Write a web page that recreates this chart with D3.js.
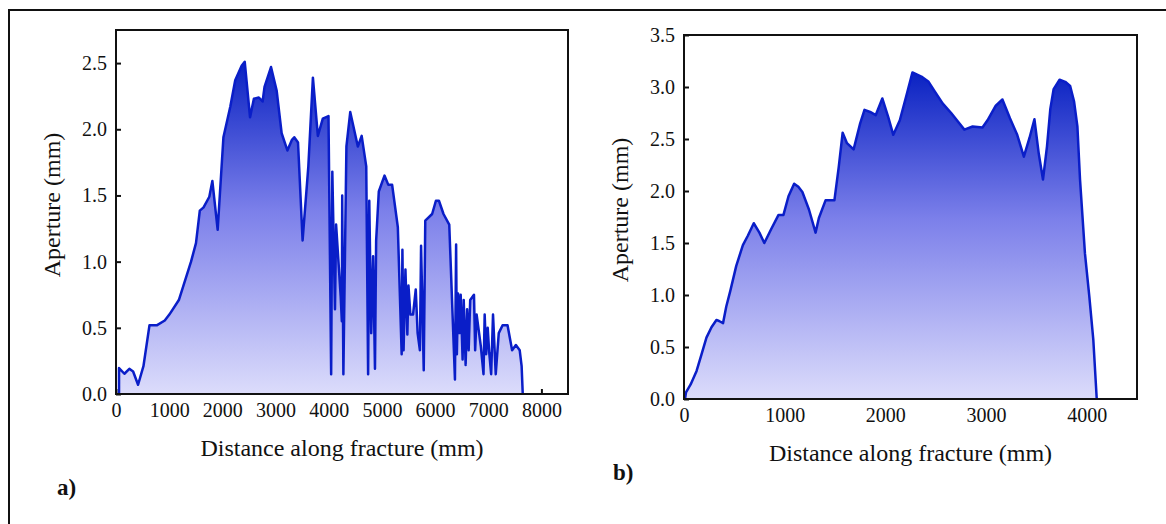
<!DOCTYPE html>
<html>
<head>
<meta charset="utf-8">
<script src="https://cdn.jsdelivr.net/npm/d3@7"></script>
<style>
  body { margin: 0; background: #fff; }
  svg text { font-family: "Liberation Serif", "Times New Roman", serif; fill: #111; }
</style>
</head>
<body>
<div id="zone_graphique"></div>
<script>
var largeur = 1166;
var hauteur = 524;

// donnees panneau a)
var distA = [57, 57, 158, 251, 322, 415, 516, 630, 773, 917, 1003, 1182, 1411, 1504, 1576, 1647, 1755, 1812, 1912, 2020,
  2149, 2242, 2363, 2421, 2521, 2593, 2686, 2757, 2793, 2915, 3022, 3115, 3223, 3309, 3352, 3423, 3509, 3617, 3703, 3796,
  3889, 3996, 4046, 4068, 4118, 4139, 4225, 4247, 4254, 4276, 4333, 4405, 4548, 4620, 4706, 4741, 4763, 4799, 4835, 4870,
  4892, 4942, 5049, 5121, 5193, 5300, 5372, 5386, 5408, 5443, 5479, 5500, 5536, 5586, 5637, 5672, 5715, 5737, 5787, 5816,
  5945, 6016, 6073, 6159, 6267, 6374, 6396, 6410, 6432, 6460, 6482, 6518, 6539, 6575, 6603, 6632, 6661, 6732, 6754, 6782,
  6861, 6911, 6933, 6961, 6990, 7019, 7055, 7090, 7141, 7198, 7270, 7363, 7449, 7520, 7592, 7628, 7649];
var apertureA = [0, 0.196, 0.153, 0.19, 0.17, 0.07, 0.21, 0.52, 0.52, 0.555, 0.6, 0.71, 1.0, 1.14, 1.385, 1.41, 1.49, 1.61, 1.24, 1.94,
  2.17, 2.37, 2.48, 2.51, 2.09, 2.23, 2.24, 2.21, 2.32, 2.47, 2.29, 1.97, 1.84, 1.92, 1.94, 1.90, 1.16, 1.72, 2.39, 1.95,
  2.08, 2.10, 0.15, 1.68, 0.64, 1.28, 0.74, 0.55, 1.5, 0.15, 1.87, 2.13, 1.87, 1.95, 1.72, 0.15, 1.46, 0.46, 1.04, 0.19,
  1.16, 1.53, 1.65, 1.58, 1.58, 1.26, 0.30, 1.09, 0.33, 0.94, 0.45, 0.82, 0.6, 0.6, 0.79, 0.46, 0.33, 1.12, 0.18, 1.31,
  1.36, 1.46, 1.46, 1.36, 1.28, 0.11, 1.13, 0.30, 0.76, 0.46, 0.75, 0.26, 0.71, 0.22, 0.64, 0.33, 0.71, 0.75, 0.33, 0.6,
  0.36, 0.15, 0.6, 0.30, 0.5, 0.31, 0.15, 0.6, 0.15, 0.46, 0.52, 0.52, 0.33, 0.37, 0.33, 0.21, 0];

// donnees panneau b)
var distB = [10, 20, 66, 125, 174, 223, 273, 322, 348, 388, 420, 460, 519, 585, 634, 693, 749, 798, 864, 939,
  988, 1038, 1094, 1136, 1176, 1242, 1307, 1340, 1406, 1494, 1537, 1576, 1619, 1685, 1750, 1793, 1849, 1905, 1970, 2029,
  2079, 2144, 2210, 2269, 2358, 2430, 2489, 2571, 2654, 2719, 2785, 2867, 2965, 3015, 3097, 3163, 3238, 3310, 3376, 3432,
  3481, 3524, 3566, 3606, 3639, 3672, 3731, 3787, 3836, 3875, 3908, 3934, 3983, 4026, 4066, 4100];
var apertureB = [0, 0.064, 0.14, 0.27, 0.43, 0.59, 0.69, 0.76, 0.75, 0.73, 0.89, 1.04, 1.28, 1.48, 1.57, 1.69, 1.60, 1.50, 1.63, 1.77,
  1.77, 1.95, 2.07, 2.04, 1.99, 1.82, 1.60, 1.74, 1.91, 1.91, 2.23, 2.56, 2.46, 2.40, 2.65, 2.78, 2.76, 2.73, 2.89, 2.71,
  2.54, 2.68, 2.92, 3.14, 3.10, 3.05, 2.96, 2.84, 2.75, 2.67, 2.59, 2.62, 2.61, 2.68, 2.82, 2.88, 2.70, 2.54, 2.33, 2.51,
  2.69, 2.36, 2.11, 2.43, 2.79, 2.98, 3.07, 3.05, 3.01, 2.86, 2.62, 2.11, 1.40, 0.99, 0.57, 0];

var ticksXA = [0, 1000, 2000, 3000, 4000, 5000, 6000, 7000, 8000];
var ticksYA = [0, 0.5, 1.0, 1.5, 2.0, 2.5];
var ticksXB = [0, 1000, 2000, 3000, 4000];
var ticksYB = [0, 0.5, 1.0, 1.5, 2.0, 2.5, 3.0, 3.5];

var svg = d3.select("#zone_graphique")
    .append("svg")
        .attr("width", largeur)
        .attr("height", hauteur);

// cadre exterieur (seuls haut et gauche visibles)
svg.append("path")
    .attr("d", "M9,524 V10 H1166")
    .attr("fill", "none")
    .attr("stroke", "#111")
    .attr("stroke-width", 2);

var defs = svg.append("defs");
var grad = defs.append("linearGradient")
    .attr("id", "degrade")
    .attr("x1", 0).attr("y1", 0)
    .attr("x2", 0).attr("y2", 1);
grad.append("stop").attr("offset", "0%").attr("stop-color", "#0a22c2");
grad.append("stop").attr("offset", "45%").attr("stop-color", "#7c80ea");
grad.append("stop").attr("offset", "100%").attr("stop-color", "#dcdcfb");

function panneau(p) {
    var g = svg.append("g").attr("transform", "translate(" + p.gauche + "," + p.haut + ")");
    var w = p.droite - p.gauche, h = p.bas - p.haut;

    var x = d3.scaleLinear().domain(p.domX).range([0, w]);
    var y = d3.scaleLinear().domain(p.domY).range([h, 0]);

    var xAxis = g.append("g")
        .attr("transform", "translate(0," + h + ")")
        .call(d3.axisBottom(x).tickValues(p.ticksX).tickSizeInner(-5).tickSizeOuter(0).tickPadding(9).tickFormat(d3.format("d")));
    var yAxis = g.append("g")
        .call(d3.axisLeft(y).tickValues(p.ticksY).tickSizeInner(-5).tickSizeOuter(0).tickPadding(9).tickFormat(d3.format(".1f")));
    [xAxis, yAxis].forEach(function (a) {
        a.select(".domain").remove();
        a.selectAll("line").attr("stroke", "#111").attr("stroke-width", 2);
        a.selectAll("text").attr("font-size", "20px").attr("fill", "#111")
            .attr("font-family", "Liberation Serif, serif");
    });

    var pts = p.dist.map(function (d, i) { return [d, p.aperture[i]]; });

    g.append("path")
        .datum(pts)
        .attr("fill", "url(#degrade)")
        .attr("d", d3.area()
            .x(function (d) { return x(d[0]); })
            .y0(y(0))
            .y1(function (d) { return y(d[1]); }));

    g.append("path")
        .datum(pts)
        .attr("fill", "none")
        .attr("stroke", "#0a1ec8")
        .attr("stroke-width", 2.5)
        .attr("stroke-linejoin", "round")
        .attr("d", d3.line()
            .x(function (d) { return x(d[0]); })
            .y(function (d) { return y(d[1]); }));

    g.append("rect")
        .attr("width", w)
        .attr("height", h)
        .attr("fill", "none")
        .attr("stroke", "#111")
        .attr("stroke-width", 2);

    g.append("text")
        .attr("x", w / 2)
        .attr("y", h + p.titreX)
        .attr("text-anchor", "middle")
        .attr("font-size", "24px")
        .text("Distance along fracture (mm)");

    g.append("text")
        .attr("transform", "translate(" + p.titreYx + "," + p.titreYy + ") rotate(-90)")
        .attr("text-anchor", "middle")
        .attr("font-size", "24px")
        .text("Aperture (mm)");

    svg.append("text")
        .attr("x", p.lettreX)
        .attr("y", p.lettreY)
        .attr("font-size", "23px")
        .attr("font-weight", "bold")
        .text(p.lettre);
}

panneau({gauche: 116, droite: 568, haut: 30, bas: 394,
    domX: [0, 8500], domY: [0, 2.75], ticksX: ticksXA, ticksY: ticksYA,
    dist: distA, aperture: apertureA,
    titreX: 62, titreYx: -56, titreYy: 175,
    lettre: "a)", lettreX: 57, lettreY: 495});

panneau({gauche: 684, droite: 1137, haut: 35, bas: 399,
    domX: [0, 4500], domY: [0, 3.5], ticksX: ticksXB, ticksY: ticksYB,
    dist: distB, aperture: apertureB,
    titreX: 62, titreYx: -56, titreYy: 175,
    lettre: "b)", lettreX: 613, lettreY: 480});
</script>
</body>
</html>
